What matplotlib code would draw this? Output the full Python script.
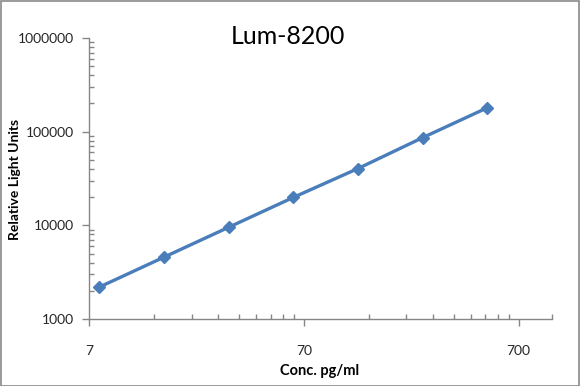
import matplotlib
matplotlib.use('Agg')
import matplotlib.pyplot as plt
from matplotlib.ticker import FixedLocator, NullFormatter, FixedFormatter
from matplotlib.patches import Rectangle

plt.rcParams['font.family'] = ['Lato', 'DejaVu Sans']

conc = [7.8125, 15.625, 31.25, 62.5, 125, 250, 500]
rlu = [2190, 4570, 9530, 19850, 40400, 86300, 180000]

x_major = [7, 70, 700]
x_major_labels = ['7', '70', '700']
y_major = [1000, 10000, 100000, 1000000]
y_major_labels = ['1000', '10000', '100000', '1000000']

fig = plt.figure(figsize=(5.8, 3.86), dpi=100)
ax = fig.add_axes([89 / 580, 67 / 386, 463 / 580, 281 / 386])

ax.plot(conc, rlu, color='#4A7EBB', linewidth=2.4, marker='D', markersize=6.5,
        markerfacecolor='#4A7EBB', markeredgecolor='#4A7EBB')

ax.set_xscale('log')
ax.set_yscale('log')
ax.set_xlim(7, 1000)
ax.set_ylim(1000, 1000000)

ax.xaxis.set_major_locator(FixedLocator(x_major))
ax.xaxis.set_major_formatter(FixedFormatter(x_major_labels))
x_minor = [d * k for d in (7, 70) for k in range(2, 10)] + [1000]
ax.xaxis.set_minor_locator(FixedLocator(x_minor))
ax.xaxis.set_minor_formatter(NullFormatter())

ax.yaxis.set_major_locator(FixedLocator(y_major))
ax.yaxis.set_major_formatter(FixedFormatter(y_major_labels))
y_minor = [d * k for d in (1000, 10000, 100000) for k in range(2, 10)]
ax.yaxis.set_minor_locator(FixedLocator(y_minor))
ax.yaxis.set_minor_formatter(NullFormatter())

axis_color = '#868686'
for side in ('top', 'right'):
    ax.spines[side].set_visible(False)
for side in ('left', 'bottom'):
    ax.spines[side].set_color(axis_color)
    ax.spines[side].set_linewidth(1.0)

ax.tick_params(which='major', direction='out', length=5, width=1, color=axis_color,
               labelsize=10, labelcolor='#262626')
ax.tick_params(which='minor', direction='in', length=3.5, width=1, color=axis_color)
ax.tick_params(axis='x', which='major', pad=14)
ax.tick_params(axis='y', which='major', pad=6)

fig.text(288 / 580, 1 - 37 / 386, 'Lum-8200', fontsize=18, ha='center', va='center',
         color='black')
fig.text(320 / 580, 1 - 371 / 386, 'Conc. pg/ml', fontsize=10.5, fontweight='bold',
         ha='center', va='center')
fig.text(15 / 580, 1 - 179 / 386, 'Relative Light Units', fontsize=10, fontweight='bold',
         ha='center', va='center', rotation=90)

fig.patches.append(Rectangle((0.5 / 580, 0.5 / 386), 1 - 1.5 / 580, 1 - 1.5 / 386,
                             transform=fig.transFigure, fill=False,
                             edgecolor='#898989', linewidth=1.2))

fig.savefig('out.png', dpi=100)
